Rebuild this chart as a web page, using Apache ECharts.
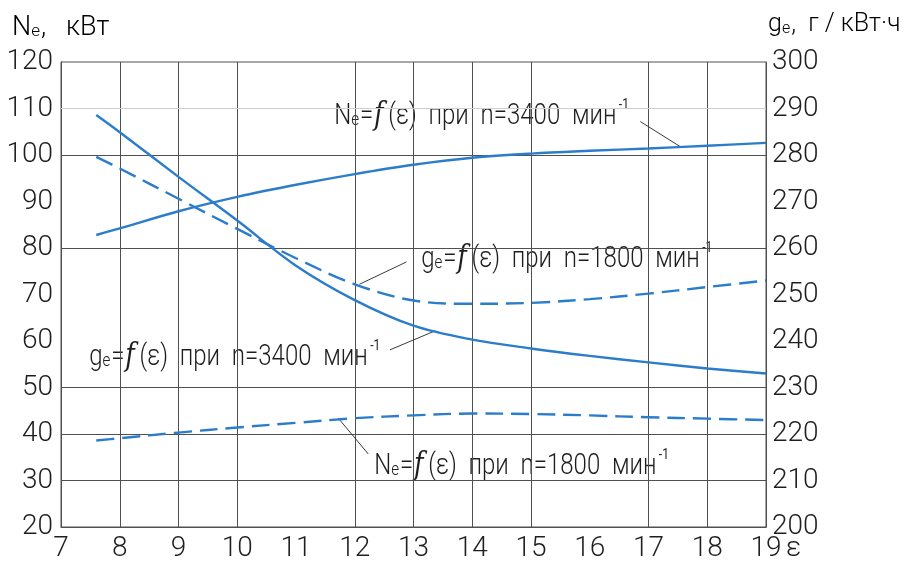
<!DOCTYPE html>
<html><head><meta charset="utf-8">
<script src="https://cdn.jsdelivr.net/npm/echarts@6/dist/echarts.min.js"></script>
<style>html,body{margin:0;padding:0;background:#fff}#c{width:921px;height:564px}</style>
</head><body><div id="c"></div>
<script>
// ---- data ----
const eps    = [7.6, 8, 9, 10, 11, 12, 13, 14, 15, 16, 17, 18, 19];
const ne3400 = [82.8, 84.2, 87.9, 91.0, 93.6, 95.9, 97.9, 99.4, 100.3, 100.9, 101.4, 102.0, 102.6];
const ne1800 = [38.6, 39.1, 40.3, 41.4, 42.4, 43.4, 44.0, 44.4, 44.3, 44.0, 43.6, 43.3, 43.0];
const ge3400 = [288.6, 284.9, 275.3, 265.9, 256.2, 248.8, 243.3, 240.3, 238.4, 236.8, 235.4, 234.1, 233.0];
const ge1800 = [279.6, 277.1, 270.6, 264.1, 257.8, 252.2, 248.7, 248.0, 248.2, 249.0, 250.2, 251.6, 253.0];
const gridX = [8, 9, 10, 12, 13, 14, 15, 17, 18];
const gridYDark = [30, 40, 50, 80, 100];
const gridYLight = [110];
// leader lines [eps, value] pairs (annotation anchors)
const leadNe3400 = [[16.86, 107.2], [17.54, 101.8]];
const leadGe1800 = [[12.88, 257.0], [12.08, 252.2]];
const leadGe3400 = [[12.60, 238.1], [13.37, 242.2]];
const leadNe1800 = [[11.72, 43.4], [12.23, 35.7]];

const FONT = "Roboto, 'Liberation Sans', sans-serif";
const BLUE = '#2b7dcc';
const GRID = '#505050';
const TXT = '#1e1e1e';

const pairs = (xs, ys) => xs.map((x, i) => [x, ys[i]]);
const leader = (pts) => ({
  silent: true, symbol: ['none', 'none'], animation: false,
  label: { show: false },
  lineStyle: { color: '#3a3a3a', width: 1, type: 'solid' },
  emphasis: { disabled: true },
  data: [[{ coord: pts[0] }, { coord: pts[1] }]]
});

const rich = (size) => ({
  n: { fontSize: size, fontFamily: FONT, fontWeight: 300, color: TXT },
  s: { fontSize: Math.round(size * 0.62), fontFamily: FONT, fontWeight: 300, color: TXT, verticalAlign: 'bottom',
       lineHeight: Math.round(size * 0.8), padding: [0, 1, Math.round(size * 0.12), 0] },
  f: { fontSize: size + 2, fontFamily: 'DejaVu Serif, serif', fontStyle: 'italic', color: TXT, padding: [0, 6, 0, 1] },
  sup: { fontSize: Math.round(size * 0.5), fontFamily: FONT, color: TXT, verticalAlign: 'top', lineHeight: 10, padding: [0, 0, 0, 3] }
});

function label(x, y, text, size, sx) {
  return {
    type: 'text', x: x, y: y, z: 3, silent: true, scaleX: sx,
    style: {
      text: text, rich: rich(size), fontSize: size, fontFamily: FONT, fill: TXT,
      verticalAlign: 'top', align: 'left', lineHeight: size + 6,
      backgroundColor: '#fff', padding: [3, 4, 3, 4]
    }
  };
}

const chart = echarts.init(document.getElementById('c'), null, { renderer: 'canvas' });
const axisLabelStyle = { fontSize: 28, fontFamily: FONT, fontWeight: 300, color: TXT };

chart.setOption({
  animation: false,
  backgroundColor: '#fff',
  grid: { left: 61, right: 155, top: 62, bottom: 37, show: true, borderColor: GRID, borderWidth: 1, backgroundColor: 'transparent' },
  xAxis: {
    type: 'value', min: 7, max: 19, interval: 1,
    axisLine: { show: true, lineStyle: { color: GRID, width: 1 } },
    axisTick: { show: false }, splitLine: { show: false },
    axisLabel: Object.assign({ margin: 8 }, axisLabelStyle)
  },
  yAxis: [
    {
      type: 'value', min: 20, max: 120, interval: 10, position: 'left',
      axisLine: { show: true, lineStyle: { color: GRID } },
      axisTick: { show: false }, splitLine: { show: false },
      axisLabel: Object.assign({ margin: 8 }, axisLabelStyle)
    },
    {
      type: 'value', min: 200, max: 300, interval: 10, position: 'right',
      axisLine: { show: true, lineStyle: { color: GRID } },
      axisTick: { show: false }, splitLine: { show: false },
      axisLabel: Object.assign({ margin: 6, padding: [0, 0, 12, 0] }, axisLabelStyle)
    }
  ],
  graphic: [
    { type: 'text', x: 12, y: 13, z: 3, silent: true,
      style: { text: '{n|N}{s|e}{n|,   кВт}', rich: rich(27), verticalAlign: 'top', lineHeight: 30 } },
    { type: 'text', x: 768, y: 10, z: 3, silent: true,
      style: { text: '{n|g}{s|e}{n|,  г / кВт·ч}', rich: rich(25), verticalAlign: 'top', lineHeight: 30 } },
    { type: 'text', x: 786, y: 535, z: 3, silent: true,
      style: { text: 'ε', fontSize: 28, fontFamily: FONT, fontWeight: 300, fill: TXT, verticalAlign: 'top' } },
    label(331, 95, '{n|N}{s|e}{n|=}{f|f}{n|(ε)  при  n=3400  мин}{sup|-1}', 30, 0.8),
    label(418, 238, '{n|g}{s|e}{n|=}{f|f}{n|(ε)  при  n=1800  мин}{sup|-1}', 30, 0.8),
    label(86, 336, '{n|g}{s|e}{n|=}{f|f}{n|(ε)  при  n=3400  мин}{sup|-1}', 30, 0.8),
    label(371, 445, '{n|N}{s|e}{n|=}{f|f}{n|(ε)  при  n=1800  мин}{sup|-1}', 30, 0.8)
  ],
  series: [
    {
      name: 'grid', type: 'line', z: 1, data: pairs(eps, ne1800), symbol: 'none',
      lineStyle: { opacity: 0 }, silent: true,
      markLine: {
        silent: true, symbol: ['none', 'none'], animation: false, label: { show: false },
        emphasis: { disabled: true },
        lineStyle: { color: GRID, width: 1, type: 'solid' },
        data: gridX.map(v => ({ xAxis: v }))
          .concat(gridYDark.map(v => ({ yAxis: v })))
          .concat(gridYLight.map(v => ({ yAxis: v, lineStyle: { color: '#cfcfcf', width: 1, type: 'solid' } })))
      }
    },
    {
      name: 'Ne 3400', type: 'line', z: 5, yAxisIndex: 0, data: pairs(eps, ne3400),
      smooth: 0.35, symbol: 'none', lineStyle: { color: BLUE, width: 2.4, type: 'solid' },
      markLine: leader(leadNe3400)
    },
    {
      name: 'Ne 1800', type: 'line', z: 5, yAxisIndex: 0, data: pairs(eps, ne1800),
      smooth: 0.35, symbol: 'none', lineStyle: { color: BLUE, width: 2.4, type: [18, 8] },
      markLine: leader(leadNe1800)
    },
    {
      name: 'ge 3400', type: 'line', z: 5, yAxisIndex: 1, data: pairs(eps, ge3400),
      smooth: 0.35, symbol: 'none', lineStyle: { color: BLUE, width: 2.4, type: 'solid' },
      markLine: leader(leadGe3400)
    },
    {
      name: 'ge 1800', type: 'line', z: 5, yAxisIndex: 1, data: pairs(eps, ge1800),
      smooth: 0.35, symbol: 'none', lineStyle: { color: BLUE, width: 2.4, type: [18, 8] },
      markLine: leader(leadGe1800)
    }
  ]
});
</script>
</body></html>
